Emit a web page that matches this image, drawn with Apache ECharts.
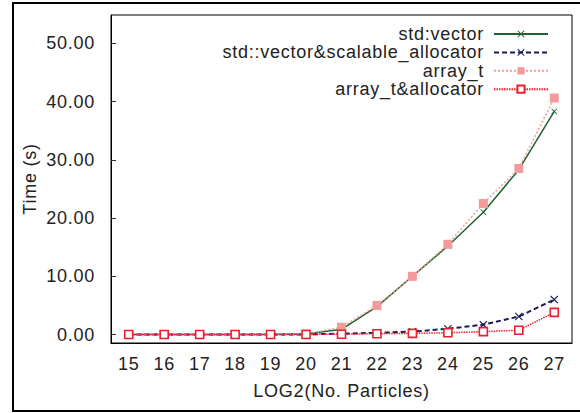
<!DOCTYPE html>
<html>
<head>
<meta charset="utf-8">
<script src="https://cdn.jsdelivr.net/npm/echarts@6/dist/echarts.min.js"></script>
<style>
  html, body { margin: 0; padding: 0; background: #fff; }
  #chart { width: 580px; height: 413px; }
  /* the original figure has slightly loose letter spacing */
  #chart text { letter-spacing: 0.75px; }
</style>
</head>
<body>
<div id="chart"></div>
<script>
// x categories: log2 of particle count
const categories = ["15", "16", "17", "18", "19", "20", "21", "22", "23", "24", "25", "26", "27"];
const yTicks = [0, 10, 20, 30, 40, 50];

// times in seconds
const stdVector = [0.01, 0.01, 0.01, 0.02, 0.03, 0.1, 0.9, 4.8, 10.0, 15.2, 21.0, 28.3, 38.3];
const stdVectorScalable = [0, 0, 0, 0, 0.01, 0.03, 0.15, 0.3, 0.5, 1.0, 1.7, 3.1, 6.0];
const arrayT = [0.01, 0.01, 0.01, 0.02, 0.03, 0.1, 1.25, 5.0, 10.0, 15.5, 22.5, 28.5, 40.6];
const arrayTAlloc = [0, 0, 0, 0, 0.01, 0.02, 0.05, 0.15, 0.2, 0.3, 0.5, 0.75, 3.8];

const font = "'Liberation Sans', Arial, Helvetica, sans-serif";
const crossPath = "path://M0,1L1,0L5,4L9,0L10,1L6,5L10,9L9,10L5,6L1,10L0,9L4,5Z";

const chart = echarts.init(document.getElementById("chart"), null, { renderer: "svg" });

const option = {
  animation: false,
  graphic: [
    {
      type: "rect",
      shape: { x: 13, y: 3, width: 600, height: 408 },
      style: { fill: "none", stroke: "#000", lineWidth: 2 },
      silent: true
    }
  ],
  grid: {
    left: 111,
    right: 8,
    top: 15,
    bottom: 70,
    show: true,
    borderColor: "#000",
    borderWidth: 1
  },
  legend: {
    right: 26,
    top: 20,
    orient: "vertical",
    align: "right",
    itemWidth: 54,
    itemHeight: 9,
    itemGap: 0.4,
    textStyle: { fontFamily: font, fontSize: 18, color: "#222", lineHeight: 18, padding: [0, 5, 0, 0] },
    data: ["std:vector", "std::vector&scalable_allocator", "array_t", "array_t&allocator"]
  },
  xAxis: {
    type: "category",
    data: categories,
    boundaryGap: true,
    name: "LOG2(No. Particles)",
    nameLocation: "middle",
    nameGap: 39,
    nameTextStyle: { fontFamily: font, fontSize: 18, color: "#222" },
    axisLine: { onZero: false, lineStyle: { color: "#000", width: 1 } },
    axisTick: { inside: true, length: 5, alignWithLabel: true, lineStyle: { color: "#333" } },
    axisLabel: { fontFamily: font, fontSize: 18, color: "#222", margin: 12 },
    splitLine: { show: false }
  },
  yAxis: {
    type: "value",
    min: -1.45,
    max: 54.85,
    name: "Time (s)",
    nameLocation: "middle",
    nameGap: 68,
    nameTextStyle: { fontFamily: font, fontSize: 18, color: "#222" },
    axisLine: { show: true, lineStyle: { color: "#000", width: 1 } },
    axisTick: { show: true, inside: true, length: 5, customValues: yTicks, lineStyle: { color: "#333" } },
    axisLabel: {
      fontFamily: font,
      fontSize: 18,
      color: "#222",
      margin: 16,
      customValues: yTicks,
      formatter: (v) => v.toFixed(2)
    },
    splitLine: { show: false }
  },
  series: [
    {
      name: "std:vector",
      type: "line",
      data: stdVector,
      symbol: crossPath,
      symbolSize: 6,
      itemStyle: { color: "#1f6230" },
      lineStyle: { color: "#1f6230", width: 1.5, type: "solid" }
    },
    {
      name: "std::vector&scalable_allocator",
      type: "line",
      data: stdVectorScalable,
      symbol: crossPath,
      symbolSize: 8,
      itemStyle: { color: "#1c1a58" },
      lineStyle: { color: "#1c1a58", width: 2, type: [5, 3] }
    },
    {
      name: "array_t",
      type: "line",
      data: arrayT,
      symbol: "rect",
      symbolSize: 9,
      itemStyle: { color: "#f39b9b" },
      lineStyle: { color: "#f39b9b", width: 1.5, type: [2, 2] }
    },
    {
      name: "array_t&allocator",
      type: "line",
      data: arrayTAlloc,
      symbol: "rect",
      symbolSize: 8,
      itemStyle: { color: "#fff", borderColor: "#e8202e", borderWidth: 1.6 },
      lineStyle: { color: "#e8202e", width: 1.5, type: [1.5, 1] }
    }
  ]
};

chart.setOption(option);
</script>
</body>
</html>
